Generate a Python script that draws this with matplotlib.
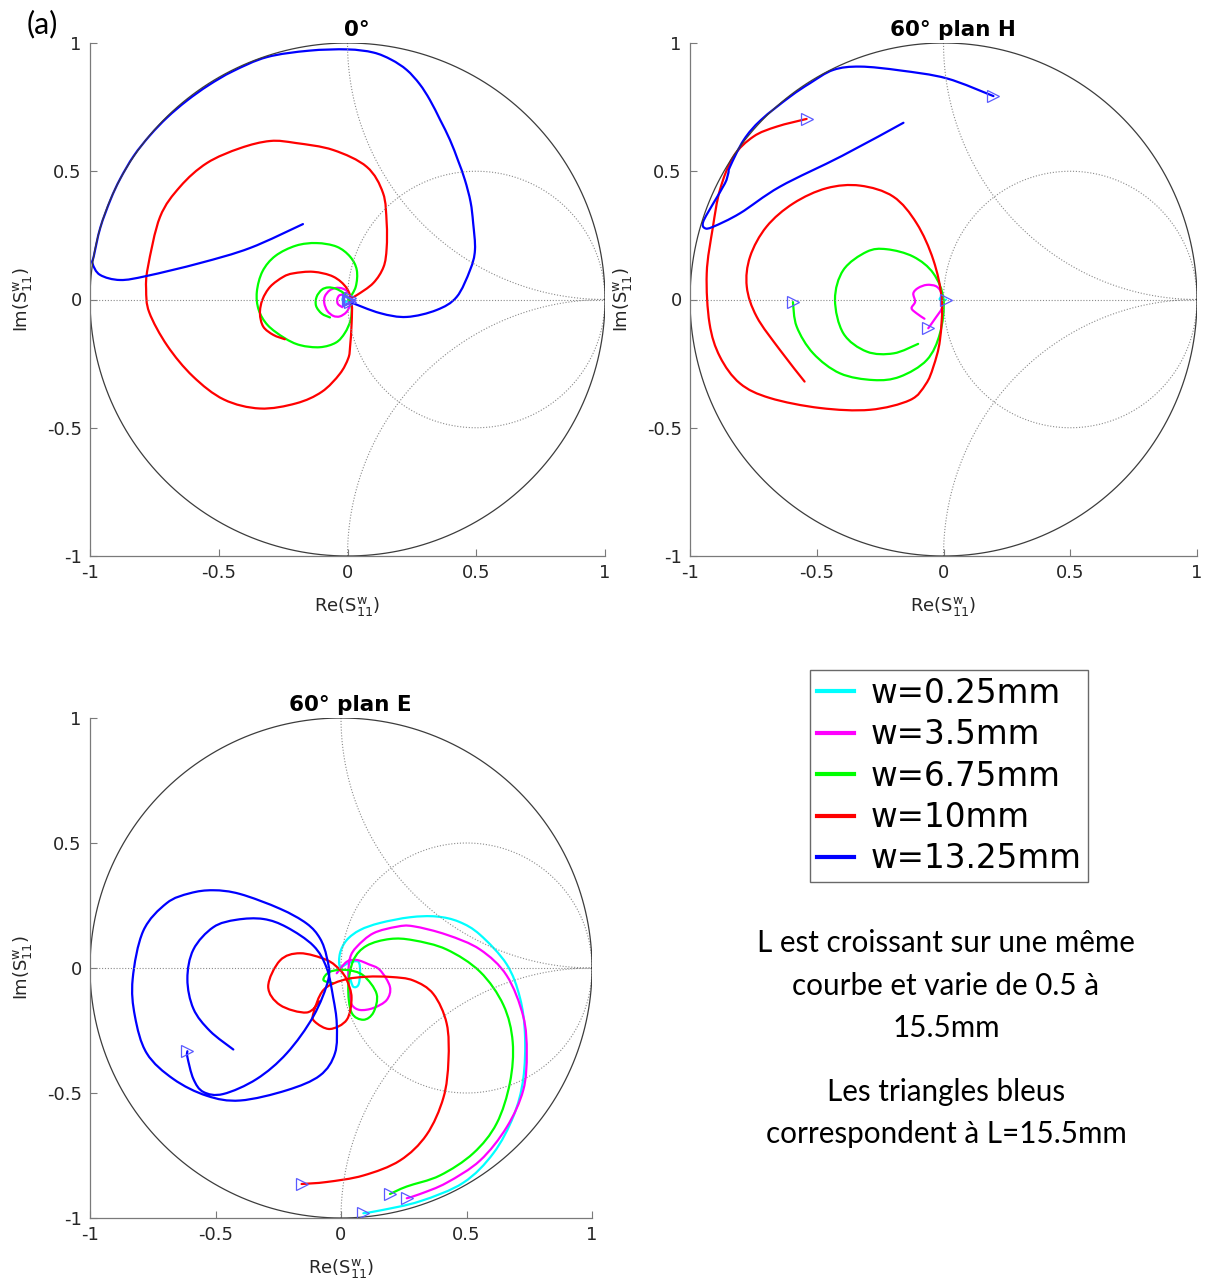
import numpy as np
import matplotlib
matplotlib.use("Agg")
import matplotlib.pyplot as plt
from matplotlib.path import Path
from matplotlib.patches import PathPatch
from matplotlib.lines import Line2D

plt.rcParams["mathtext.fontset"] = "dejavusans"

# ---- donnees (Re, Im) ----
COLORS = ["#00ffff", "#ff00ff", "#00ff00", "#ff0000", "#0000ff"]
LABELS = ["w=0.25mm", "w=3.5mm", "w=6.75mm", "w=10mm", "w=13.25mm"]
TITLES = ["0°", "60° plan H", "60° plan E"]

# 0 deg
p1_cyan = [(0.005, 0.005), (-0.01, 0.012), (-0.02, 0.0), (-0.01, -0.01), (0.003, -0.003)]
p1_magenta = [(-0.02, -0.03), (-0.037, -0.018), (-0.04, 0.0), (-0.033, 0.015), (-0.02, 0.02),
              (0.0, 0.03), (-0.02, 0.043), (-0.045, 0.045), (-0.07, 0.035), (-0.088, 0.012),
              (-0.09, -0.015), (-0.078, -0.045), (-0.055, -0.064), (-0.03, -0.066),
              (-0.005, -0.05), (0.008, -0.025), (0.005, 0.0)]
p1_green = [(-0.068, -0.07), (-0.1, -0.055), (-0.122, -0.025), (-0.12, 0.01), (-0.1, 0.038),
            (-0.075, 0.047), (-0.045, 0.042), (-0.015, 0.025), (0.005, 0.0), (0.016, -0.03),
            (0.012, -0.08), (-0.01, -0.13), (-0.045, -0.168), (-0.107, -0.186),
            (-0.184, -0.178), (-0.245, -0.15), (-0.31, -0.1), (-0.345, -0.04),
            (-0.352, 0.03), (-0.33, 0.11), (-0.28, 0.17), (-0.2, 0.21), (-0.12, 0.22),
            (-0.042, 0.206), (0.01, 0.167), (0.036, 0.115), (0.032, 0.05), (0.005, 0.0)]
p1_red = [(-0.243, -0.155), (-0.288, -0.138), (-0.327, -0.106), (-0.34, -0.054), (-0.33, 0.0),
          (-0.3, 0.05), (-0.25, 0.088), (-0.21, 0.102), (-0.133, 0.108), (-0.055, 0.089),
          (-0.003, 0.044), (0.016, -0.015), (0.016, -0.093), (0.01, -0.184), (0.003, -0.229),
          (-0.03, -0.29), (-0.1, -0.36), (-0.2, -0.405), (-0.34, -0.425), (-0.48, -0.39),
          (-0.6, -0.3), (-0.7, -0.18), (-0.77, -0.05), (-0.782, 0.04), (-0.775, 0.127),
          (-0.728, 0.322), (-0.65, 0.44), (-0.546, 0.532), (-0.417, 0.59), (-0.3, 0.618),
          (-0.2, 0.61), (-0.056, 0.583), (0.075, 0.517), (0.138, 0.415), (0.152, 0.3),
          (0.152, 0.2), (0.14, 0.127), (0.1, 0.064), (0.036, 0.017), (0.01, 0.005)]
p1_blue = [(-0.173, 0.294), (-0.378, 0.201), (-0.573, 0.142), (-0.779, 0.092), (-0.883, 0.076),
           (-0.961, 0.096), (-0.99, 0.14), (-0.985, 0.17), (-0.96, 0.28), (-0.92, 0.39),
           (-0.883, 0.47), (-0.83, 0.56), (-0.767, 0.64), (-0.7, 0.71), (-0.624, 0.775),
           (-0.54, 0.835), (-0.445, 0.89), (-0.313, 0.945), (-0.15, 0.97), (0.0, 0.975),
           (0.1, 0.963), (0.17, 0.935), (0.23, 0.895), (0.28, 0.84), (0.32, 0.778),
           (0.36, 0.7), (0.398, 0.622), (0.43, 0.54), (0.456, 0.466), (0.478, 0.38),
           (0.488, 0.298), (0.495, 0.193), (0.476, 0.115), (0.424, 0.01), (0.346, -0.041),
           (0.23, -0.068), (0.126, -0.053), (0.01, -0.01)]

# 60 deg plan H
p2_cyan = [(-0.01, 0.01), (-0.015, 0.0), (0.0, -0.005), (0.01, 0.0)]
p2_magenta = [(-0.075, -0.075), (-0.106, -0.054), (-0.126, -0.034), (-0.112, -0.009),
              (-0.119, 0.024), (-0.1, 0.045), (-0.066, 0.057), (-0.03, 0.052), (-0.01, 0.03),
              (-0.005, 0.0), (-0.007, -0.035), (-0.03, -0.07), (-0.06, -0.112)]
p2_green = [(-0.1, -0.173), (-0.197, -0.21), (-0.303, -0.203), (-0.395, -0.132), (-0.428, 0.0),
            (-0.395, 0.115), (-0.303, 0.186), (-0.224, 0.196), (-0.119, 0.167),
            (-0.04, 0.102), (0.0, 0.0), (-0.014, -0.132), (-0.066, -0.236), (-0.172, -0.301),
            (-0.277, -0.314), (-0.408, -0.288), (-0.514, -0.21), (-0.579, -0.106),
            (-0.594, -0.01)]
p2_red = [(-0.548, -0.32), (-0.645, -0.197), (-0.737, -0.067), (-0.776, 0.05), (-0.763, 0.167),
          (-0.698, 0.284), (-0.592, 0.375), (-0.461, 0.434), (-0.329, 0.444),
          (-0.198, 0.401), (-0.106, 0.297), (-0.04, 0.154), (-0.007, 0.0), (-0.014, -0.158),
          (-0.04, -0.262), (-0.07, -0.33), (-0.132, -0.392), (-0.29, -0.43),
          (-0.487, -0.423), (-0.685, -0.384), (-0.803, -0.327), (-0.882, -0.223),
          (-0.923, -0.093), (-0.934, 0.102), (-0.91, 0.28), (-0.882, 0.427),
          (-0.829, 0.557), (-0.75, 0.635), (-0.658, 0.674), (-0.54, 0.704)]
p2_blue = [(-0.158, 0.689), (-0.4, 0.56), (-0.645, 0.44), (-0.803, 0.336), (-0.908, 0.284),
           (-0.941, 0.278), (-0.948, 0.303), (-0.908, 0.375), (-0.862, 0.453),
           (-0.849, 0.492), (-0.842, 0.518), (-0.788, 0.622), (-0.72, 0.7), (-0.605, 0.791),
           (-0.527, 0.843), (-0.435, 0.895), (-0.329, 0.908), (-0.171, 0.893),
           (0.013, 0.862), (0.197, 0.793)]

# 60 deg plan E
p3_cyan = [(0.036, -0.041), (0.049, -0.075), (0.069, -0.068), (0.076, -0.021), (0.069, 0.025),
           (0.03, 0.02), (-0.004, 0.005), (-0.004, 0.059), (0.023, 0.112), (0.076, 0.152),
           (0.155, 0.18), (0.275, 0.203), (0.38, 0.206), (0.47, 0.185), (0.554, 0.133),
           (0.66, 0.015), (0.713, -0.119), (0.733, -0.267), (0.726, -0.444), (0.687, -0.593),
           (0.607, -0.741), (0.487, -0.859), (0.315, -0.933), (0.155, -0.97), (0.089, -0.981)]
p3_magenta = [(-0.017, -0.021), (0.023, 0.025), (0.063, 0.032), (0.11, 0.015), (0.155, -0.008),
              (0.195, -0.075), (0.182, -0.128), (0.129, -0.16), (0.076, -0.168),
              (0.045, -0.15), (0.036, -0.115), (0.029, -0.035), (0.036, 0.04), (0.063, 0.085),
              (0.129, 0.139), (0.222, 0.165), (0.288, 0.167), (0.421, 0.133), (0.554, 0.074),
              (0.66, -0.03), (0.726, -0.193), (0.74, -0.341), (0.726, -0.489), (0.66, -0.637),
              (0.554, -0.77), (0.421, -0.859), (0.315, -0.904), (0.262, -0.921)]
p3_green = [(-0.031, -0.061), (-0.07, -0.048), (-0.044, -0.015), (0.023, -0.008), (0.089, -0.03),
            (0.142, -0.104), (0.129, -0.178), (0.089, -0.207), (0.042, -0.178),
            (0.029, -0.074), (0.049, 0.03), (0.102, 0.089), (0.195, 0.116), (0.288, 0.111),
            (0.421, 0.074), (0.554, -0.015), (0.647, -0.148), (0.684, -0.296),
            (0.673, -0.459), (0.62, -0.622), (0.527, -0.741), (0.394, -0.83),
            (0.262, -0.874), (0.195, -0.904)]
p3_red = [(-0.084, -0.133), (-0.137, -0.178), (-0.243, -0.148), (-0.29, -0.074), (-0.243, 0.03),
          (-0.163, 0.059), (-0.057, 0.032), (-0.004, -0.008), (0.023, -0.048),
          (0.042, -0.119), (0.023, -0.207), (-0.044, -0.244), (-0.104, -0.215),
          (-0.11, -0.181), (-0.07, -0.088), (0.009, -0.048), (0.102, -0.035),
          (0.2, -0.036), (0.288, -0.05), (0.368, -0.104), (0.421, -0.222),
          (0.428, -0.37), (0.408, -0.519), (0.341, -0.667), (0.235, -0.77), (0.089, -0.83),
          (-0.057, -0.856), (-0.157, -0.864)]
p3_blue = [(-0.429, -0.326), (-0.522, -0.252), (-0.588, -0.163), (-0.612, -0.044),
           (-0.588, 0.074), (-0.509, 0.163), (-0.416, 0.193), (-0.309, 0.196),
           (-0.216, 0.163), (-0.11, 0.089), (-0.057, 0.0), (-0.031, -0.119), (-0.017, -0.222),
           (-0.024, -0.341), (-0.084, -0.43), (-0.216, -0.489), (-0.402, -0.53),
           (-0.535, -0.511), (-0.668, -0.444), (-0.774, -0.341), (-0.821, -0.193),
           (-0.83, -0.044), (-0.788, 0.148), (-0.695, 0.259), (-0.602, 0.299),
           (-0.509, 0.311), (-0.402, 0.296), (-0.243, 0.237), (-0.137, 0.178),
           (-0.084, 0.119), (-0.057, 0.044), (-0.05, -0.044), (-0.11, -0.193),
           (-0.216, -0.341), (-0.336, -0.444), (-0.469, -0.504), (-0.548, -0.496),
           (-0.588, -0.444), (-0.612, -0.356), (-0.612, -0.333)]

PANELS = [
    [p1_cyan, p1_magenta, p1_green, p1_red, p1_blue],
    [p2_cyan, p2_magenta, p2_green, p2_red, p2_blue],
    [p3_cyan, p3_magenta, p3_green, p3_red, p3_blue],
]

TICKS = [-1, -0.5, 0, 0.5, 1]
TICK_LABELS = ["-1", "-0.5", "0", "0.5", "1"]

W, H = 1209, 1279
# (gauche, haut, droite, bas) en pixels
BOXES = [(90, 43, 605, 556), (690, 43, 1197, 556), (90, 718, 592, 1218)]

GRID = dict(color="#8a8a8a", lw=0.8, ls=(0, (1, 1.6)))


def smith_grid(ax):
    t = np.linspace(0, 2 * np.pi, 500)
    ax.plot([-1, 1], [0, 0], **GRID)
    ax.plot(0.5 + 0.5 * np.cos(t), 0.5 * np.sin(t), **GRID)
    a = np.linspace(np.pi, 1.5 * np.pi, 300)
    ax.plot(1 + np.cos(a), 1 + np.sin(a), **GRID)
    ax.plot(1 + np.cos(a), -1 - np.sin(a), **GRID)
    ax.plot(np.cos(t), np.sin(t), color="#3c3c3c", lw=0.9)


def smooth_path(pts):
    """Trace lisse (Bezier type Catmull-Rom) passant par les points lus."""
    p = np.asarray(pts, dtype=float)
    verts = [p[0]]
    codes = [Path.MOVETO]
    n = len(p)
    for i in range(n - 1):
        p0 = p[i - 1] if i > 0 else p[i]
        p1, p2 = p[i], p[i + 1]
        p3 = p[i + 2] if i + 2 < n else p[i + 1]
        verts += [p1 + (p2 - p0) / 6, p2 - (p3 - p1) / 6, p2]
        codes += [Path.CURVE4] * 3
    return Path(verts, codes)


fig = plt.figure(figsize=(W / 100, H / 100), dpi=100)
for k, (l, t, r, b) in enumerate(BOXES):
    ax = fig.add_axes([l / W, 1 - b / H, (r - l) / W, (b - t) / H])
    smith_grid(ax)
    for pts, col in zip(PANELS[k], COLORS):
        ax.add_patch(PathPatch(smooth_path(pts), fill=False, edgecolor=col, lw=1.6,
                               capstyle="round", joinstyle="round"))
    for pts in PANELS[k]:
        ax.plot(pts[-1][0], pts[-1][1], marker=">", ms=9, mfc="none",
                mec="#5a5aff", mew=0.9, ls="none")
    ax.set_xlim(-1, 1)
    ax.set_ylim(-1, 1)
    for s in ["top", "right"]:
        ax.spines[s].set_visible(False)
    for s in ["left", "bottom"]:
        ax.spines[s].set_color("#7a7a7a")
        ax.spines[s].set_linewidth(0.9)
    ax.set_xticks(TICKS)
    ax.set_yticks(TICKS)
    ax.set_xticklabels(TICK_LABELS)
    ax.set_yticklabels(TICK_LABELS)
    ax.tick_params(direction="in", length=5, width=0.8, color="#7a7a7a",
                   labelsize=13, labelcolor="#262626", pad=6)
    ax.set_xlabel(r"Re(S$_{11}^{\mathrm{w}}$)", fontsize=13, color="#262626", labelpad=9)
    ax.set_ylabel(r"Im(S$_{11}^{\mathrm{w}}$)", fontsize=13, color="#262626", labelpad=9)
    ax.set_title(TITLES[k], fontsize=15.5, fontweight="bold", x=0.518, pad=5)

fig.text(27 / W, 1 - 24 / H, "(a)", fontsize=22, family="Lato", va="center", ha="left")

handles = [Line2D([], [], color=c, lw=3) for c in COLORS]
leg = fig.legend(handles, LABELS, loc="upper left", bbox_to_anchor=(810 / W, 1 - 670 / H),
                 borderaxespad=0, fontsize=23.5, frameon=True, fancybox=False,
                 edgecolor="#444444", handlelength=1.15, handletextpad=0.5,
                 labelspacing=0.26, borderpad=0.2)
leg.get_frame().set_linewidth(1.0)

NOTE_LINES = ["L est croissant sur une même", "courbe et varie de 0.5 à", "15.5mm",
              "Les triangles bleus", "correspondent à L=15.5mm"]
NOTE_Y = [943, 986, 1028, 1092, 1134]
for txt, y in zip(NOTE_LINES, NOTE_Y):
    fig.text(946 / W, 1 - y / H, txt, fontsize=21.3, family="Lato", ha="center", va="center")

fig.savefig("out.png", dpi=100)
